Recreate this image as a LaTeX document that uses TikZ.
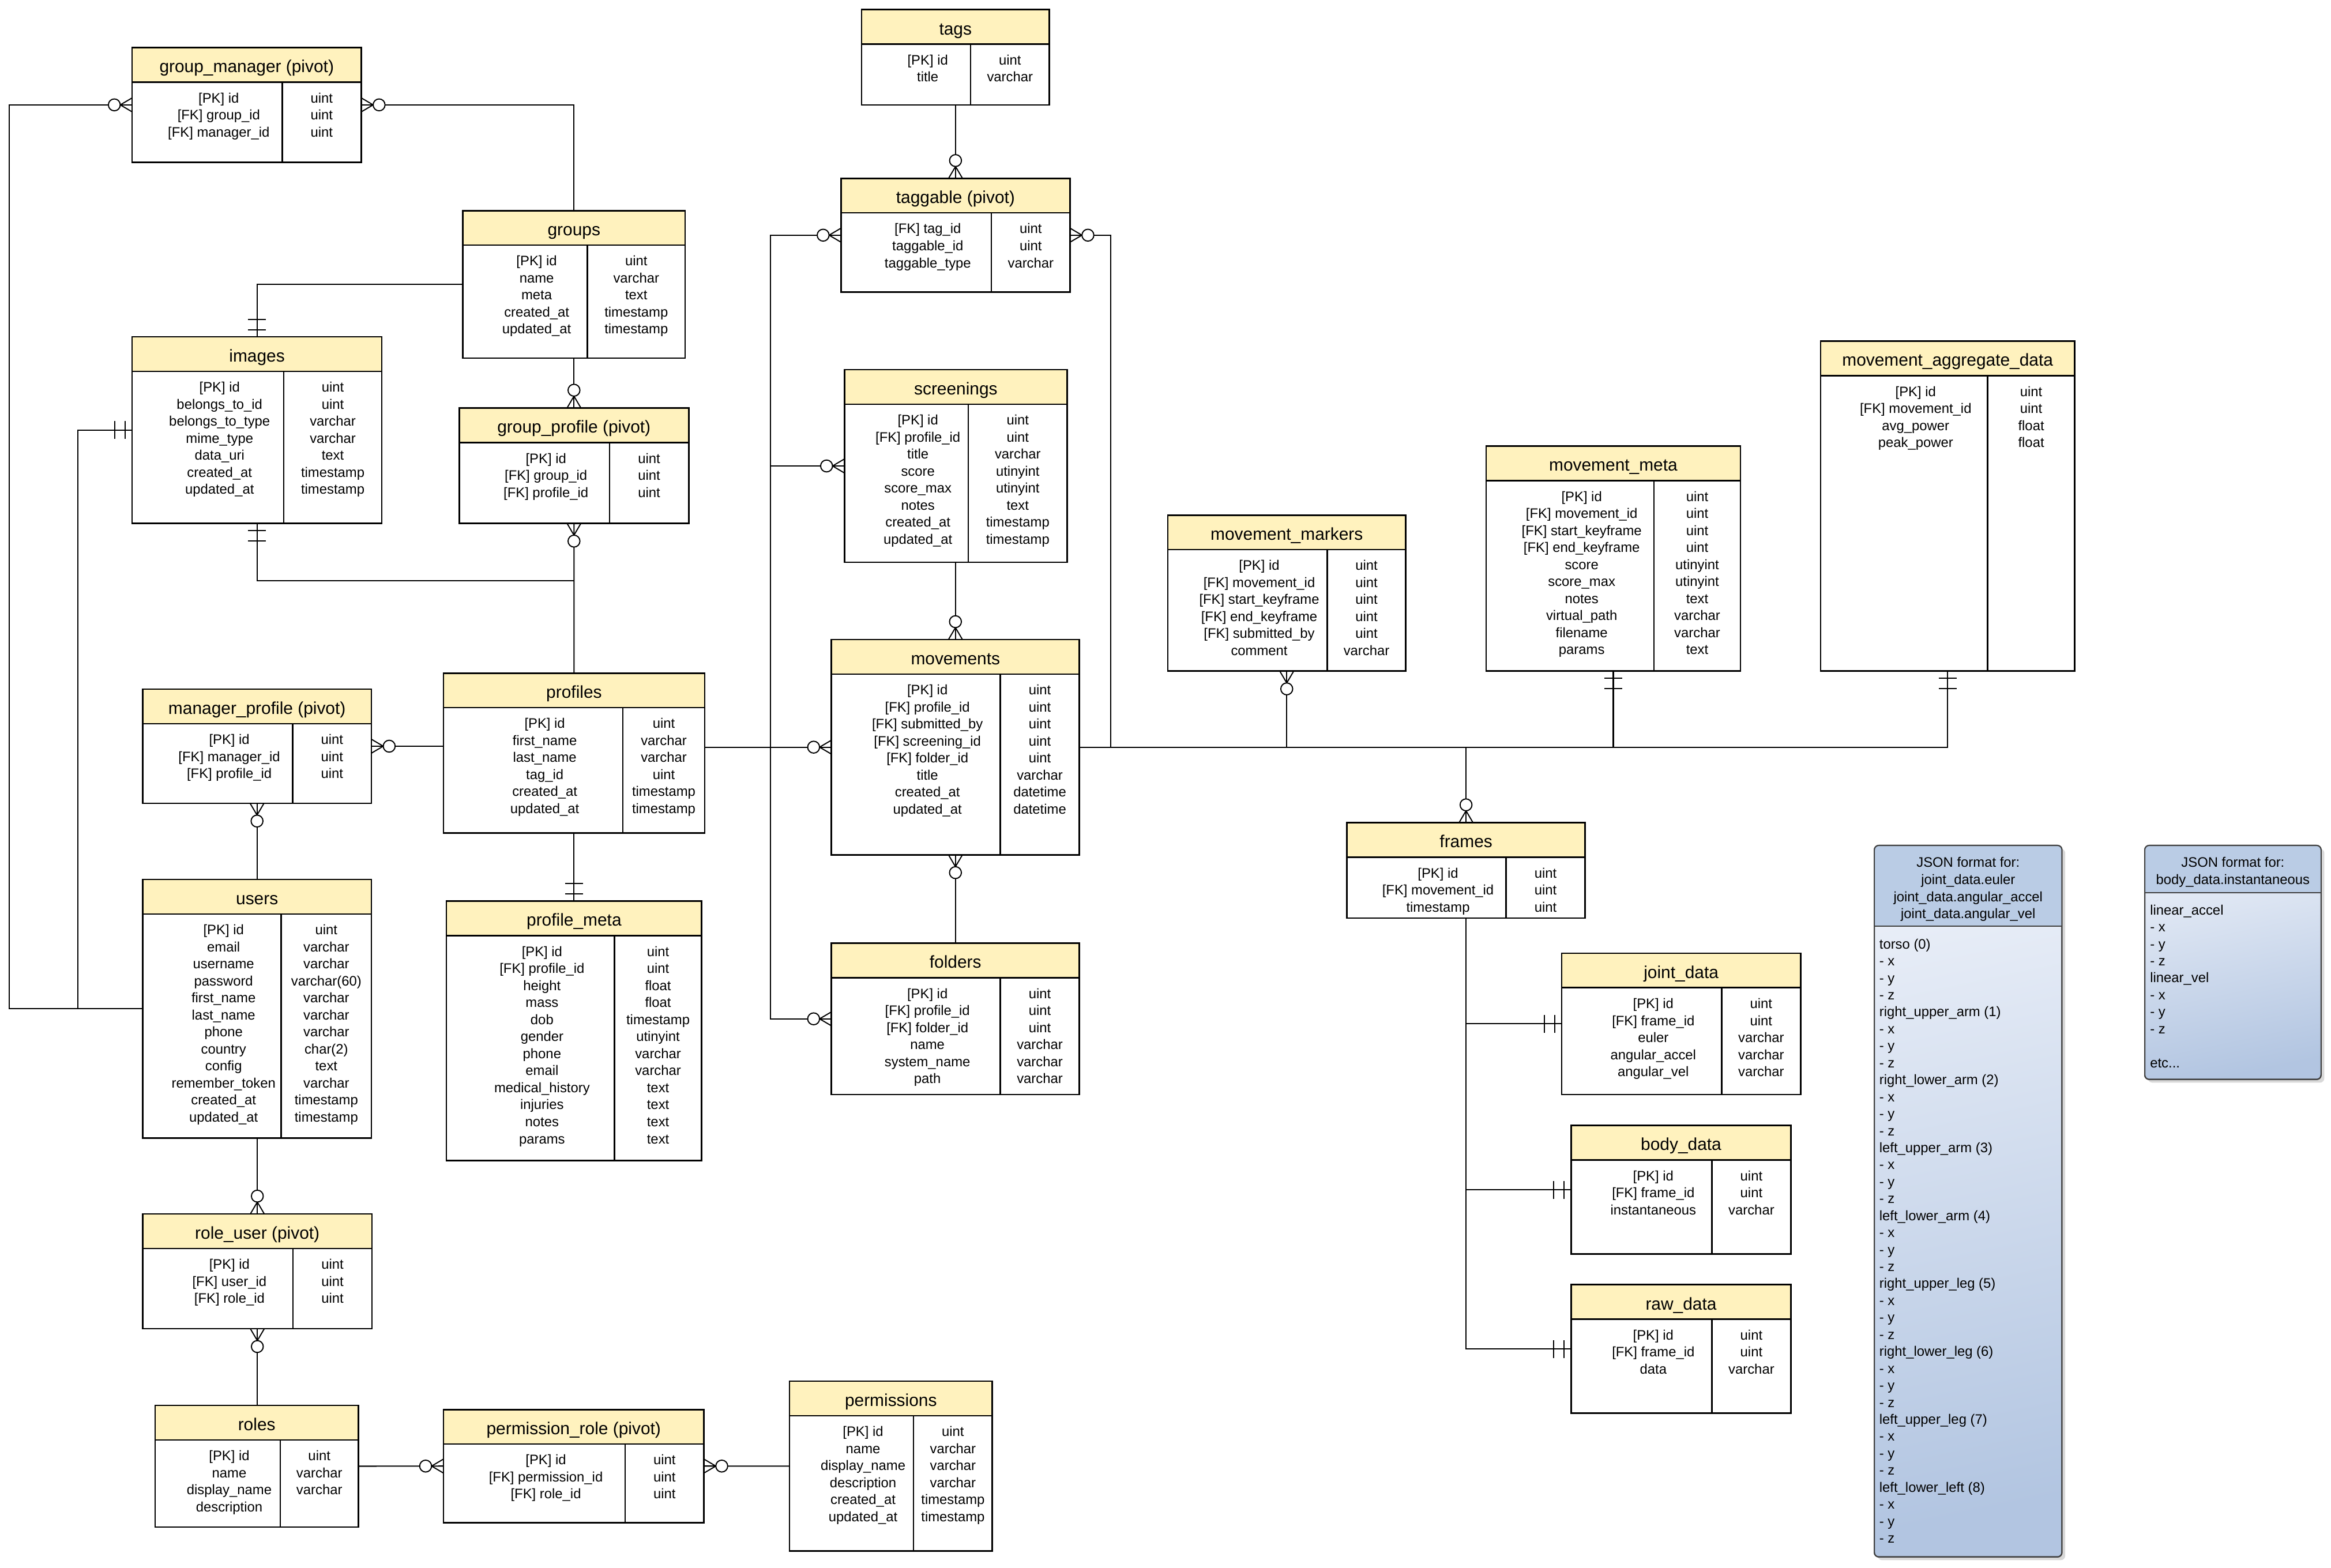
\documentclass[tikz,border=0pt]{standalone}
\usepackage{fontspec}
\setmainfont{Liberation Sans}
\usetikzlibrary{fit,shadows,calc}

\definecolor{hdryellow}{RGB}{255,242,190}
\definecolor{notetop}{RGB}{234,239,248}
\definecolor{notebot}{RGB}{178,197,225}
\definecolor{notehdr}{RGB}{186,204,229}

\tikzset{
  tbox/.style={draw=black, line width=1pt, inner sep=0pt, outer sep=0pt},
  tline/.style={draw=black, line width=1pt},
  ttitle/.style={anchor=base, inner sep=0pt, font=\fontsize{11.6}{13}\selectfont},
  trow/.style={anchor=base, inner sep=0pt, font=\fontsize{9.25}{11.45}\selectfont},
  conn/.style={draw=black, line width=0.8pt},
  sym/.style={draw=black, line width=0.75pt},
  notebox/.style={draw=black!75, line width=0.8pt, rounded corners=3pt,
    inner sep=0pt, outer sep=0pt, top color=notetop, bottom color=notebot,
    shading angle=12,
    drop shadow={shadow xshift=2.2pt, shadow yshift=-2.2pt, opacity=0.3}},
}

% table: name, left, top, right, bottom, divider x, title, field names, field types
\newcommand\ertable[9]{%
  \coordinate (#1-nw) at (#2,#3);
  \coordinate (#1-se) at (#4,#5);
  \fill[hdryellow] (#2,#3) rectangle (#4,#3+23.2);
  \draw[tline] (#2,#3+23.2) -- (#4,#3+23.2);
  \draw[tline] (#6,#3+23.2) -- (#6,#5);
  \node[tbox, fit=(#1-nw)(#1-se)] (#1) {};
  \node[ttitle] (#1-title) at ({(#2+#4)/2},#3+16.8) {#7};
  \foreach \fname [count=\k] in {#8}
    {\node[trow] (#1-f\k) at ({(#2+#6)/2+7.8},{#3+37.1+(\k-1)*11.45}) {\fname};}
  \foreach \ftype [count=\k] in {#9}
    {\node[trow] (#1-t\k) at ({(#6+#4)/2},{#3+37.1+(\k-1)*11.45}) {\ftype};}
}

% crow's foot ends: anchor point on the box side, direction the line leaves in
\newcommand\zeromany[2]{%
  \begin{scope}[shift={(#1)}, rotate=#2]
    \draw[sym] (0,4.7) -- (8,0) -- (0,-4.7);
    \draw[sym, fill=white] (12,0) circle[radius=4];
  \end{scope}}
\newcommand\onlyone[2]{%
  \begin{scope}[shift={(#1)}, rotate=#2]
    \draw[sym] (4.8,-6) -- (4.8,6) (11.8,-6) -- (11.8,6);
  \end{scope}}

\begin{document}
\begin{tikzpicture}[x=1pt, y=-1pt]
\useasboundingbox (0,0) rectangle (1568,1054.4);
\fill[white] (0,0) rectangle (1568,1054.4);

% ---------- tables ----------
\ertable{gm}{88.9}{32.0}{243.0}{109.1}{189.8}{group\_manager (pivot)}
  {[PK] id, [FK] group\_id, [FK] manager\_id}{uint, uint, uint}
\ertable{groups}{311.3}{141.7}{460.9}{240.9}{395.1}{groups}
  {[PK] id, name, meta, created\_at, updated\_at}{uint, varchar, text, timestamp, timestamp}
\ertable{img}{88.9}{226.6}{256.8}{352.0}{190.9}{images}
  {[PK] id, belongs\_to\_id, belongs\_to\_type, mime\_type, data\_uri, created\_at, updated\_at}
  {uint, uint, varchar, varchar, text, timestamp, timestamp}
\ertable{gp}{308.9}{274.5}{463.3}{352.0}{410.0}{group\_profile (pivot)}
  {[PK] id, [FK] group\_id, [FK] profile\_id}{uint, uint, uint}
\ertable{mp}{96.0}{463.6}{249.8}{540.3}{196.9}{manager\_profile (pivot)}
  {[PK] id, [FK] manager\_id, [FK] profile\_id}{uint, uint, uint}
\ertable{profiles}{298.3}{452.8}{474.0}{560.3}{419.0}{profiles}
  {[PK] id, first\_name, last\_name, tag\_id, created\_at, updated\_at}
  {uint, varchar, varchar, uint, timestamp, timestamp}
\ertable{users}{96.0}{591.6}{249.8}{765.6}{189.2}{users}
  {[PK] id, email, username, password, first\_name, last\_name, phone, country, config, remember\_token, created\_at, updated\_at}
  {uint, varchar, varchar, varchar(60), varchar, varchar, varchar, char(2), text, varchar, timestamp, timestamp}
\ertable{pm}{300.3}{606.2}{472.0}{780.8}{413.3}{profile\_meta}
  {[PK] id, [FK] profile\_id, height, mass, dob, gender, phone, email, medical\_history, injuries, notes, params}
  {uint, uint, float, float, timestamp, utinyint, varchar, varchar, text, text, text, text}
\ertable{ru}{96.0}{816.6}{250.2}{893.8}{197.1}{role\_user (pivot)}
  {[PK] id, [FK] user\_id, [FK] role\_id}{uint, uint, uint}
\ertable{roles}{104.3}{945.4}{241.1}{1027.2}{188.5}{roles}
  {[PK] id, name, display\_name, description}{uint, varchar, varchar}
\ertable{pr}{298.3}{948.2}{473.5}{1024.2}{420.5}{permission\_role (pivot)}
  {[PK] id, [FK] permission\_id, [FK] role\_id}{uint, uint, uint}
\ertable{perm}{531.0}{929.1}{667.5}{1043.4}{614.5}{permissions}
  {[PK] id, name, display\_name, description, created\_at, updated\_at}
  {uint, varchar, varchar, varchar, timestamp, timestamp}
\ertable{tags}{579.6}{6.5}{705.8}{70.6}{652.9}{tags}
  {[PK] id, title}{uint, varchar}
\ertable{tg}{565.7}{120.0}{719.8}{196.4}{666.9}{taggable (pivot)}
  {[FK] tag\_id, taggable\_id, taggable\_type}{uint, uint, varchar}
\ertable{scr}{568.0}{248.7}{717.9}{378.2}{651.3}{screenings}
  {[PK] id, [FK] profile\_id, title, score, score\_max, notes, created\_at, updated\_at}
  {uint, uint, varchar, utinyint, utinyint, text, timestamp, timestamp}
\ertable{mov}{559.3}{430.2}{726.1}{575.0}{672.8}{movements}
  {[PK] id, [FK] profile\_id, [FK] submitted\_by, [FK] screening\_id, [FK] folder\_id, title, created\_at, updated\_at}
  {uint, uint, uint, uint, uint, varchar, datetime, datetime}
\ertable{fold}{559.3}{634.5}{726.1}{736.2}{672.8}{folders}
  {[PK] id, [FK] profile\_id, [FK] folder\_id, name, system\_name, path}
  {uint, uint, uint, varchar, varchar, varchar}
\ertable{mk}{785.6}{346.5}{945.5}{451.4}{892.9}{movement\_markers}
  {[PK] id, [FK] movement\_id, [FK] start\_keyframe, [FK] end\_keyframe, [FK] submitted\_by, comment}
  {uint, uint, uint, uint, uint, varchar}
\ertable{meta}{999.7}{300.1}{1170.7}{451.4}{1112.6}{movement\_meta}
  {[PK] id, [FK] movement\_id, [FK] start\_keyframe, [FK] end\_keyframe, score, score\_max, notes, virtual\_path, filename, params}
  {uint, uint, uint, uint, utinyint, utinyint, text, varchar, varchar, text}
\ertable{agg}{1224.6}{229.5}{1395.6}{451.4}{1337.0}{movement\_aggregate\_data}
  {[PK] id, [FK] movement\_id, avg\_power, peak\_power}{uint, uint, float, float}
\ertable{frames}{906.0}{553.4}{1066.3}{617.6}{1013.0}{frames}
  {[PK] id, [FK] movement\_id, timestamp}{uint, uint, uint}
\ertable{jd}{1050.5}{641.2}{1211.2}{736.2}{1158.1}{joint\_data}
  {[PK] id, [FK] frame\_id, euler, angular\_accel, angular\_vel}{uint, uint, varchar, varchar, varchar}
\ertable{bd}{1057.0}{757.1}{1204.6}{843.6}{1151.6}{body\_data}
  {[PK] id, [FK] frame\_id, instantaneous}{uint, uint, varchar}
\ertable{raw}{1057.0}{864.2}{1204.6}{950.6}{1151.6}{raw\_data}
  {[PK] id, [FK] frame\_id, data}{uint, uint, varchar}

% ---------- JSON notes ----------
\coordinate (n1-nw) at (1260.8,568.7);
\coordinate (n1-se) at (1387.0,1047.3);
\coordinate (n1-h) at (1387.0,623.1);
\node[notebox, fit=(n1-nw)(n1-se)] (n1) {};
\begin{scope}
  \clip[rounded corners=3pt] (n1-nw) rectangle (n1-se);
  \fill[notehdr] (n1-nw) rectangle (n1-h);
\end{scope}
\draw[draw=black!75, line width=0.8pt] (n1.west |- n1-h) -- (n1-h);
\draw[draw=black!75, line width=0.8pt, rounded corners=3pt] (n1-nw) rectangle (n1-se);
\foreach \ln [count=\k] in {JSON format for:, joint\_data.euler, joint\_data.angular\_accel, joint\_data.angular\_vel}
  {\node[trow] (n1-h\k) at (1323.9,{583.4+(\k-1)*11.5}) {\ln};}
\foreach \ln [count=\k] in {torso (0), - x, - y, - z,
    right\_upper\_arm (1), - x, - y, - z,
    right\_lower\_arm (2), - x, - y, - z,
    left\_upper\_arm (3), - x, - y, - z,
    left\_lower\_arm (4), - x, - y, - z,
    right\_upper\_leg (5), - x, - y, - z,
    right\_lower\_leg (6), - x, - y, - z,
    left\_upper\_leg (7), - x, - y, - z,
    left\_lower\_left (8), - x, - y, - z}
  {\node[trow, anchor=base west] (n1-b\k) at (1264.0,{638.2+(\k-1)*11.42}) {\ln};}

\coordinate (n2-nw) at (1442.7,568.7);
\coordinate (n2-se) at (1561.3,726.1);
\coordinate (n2-h) at (1561.3,600.6);
\node[notebox, fit=(n2-nw)(n2-se)] (n2) {};
\begin{scope}
  \clip[rounded corners=3pt] (n2-nw) rectangle (n2-se);
  \fill[notehdr] (n2-nw) rectangle (n2-h);
\end{scope}
\draw[draw=black!75, line width=0.8pt] (n2.west |- n2-h) -- (n2-h);
\draw[draw=black!75, line width=0.8pt, rounded corners=3pt] (n2-nw) rectangle (n2-se);
\foreach \ln [count=\k] in {JSON format for:, body\_data.instantaneous}
  {\node[trow] (n2-h\k) at (1502.0,{583.4+(\k-1)*11.5}) {\ln};}
\foreach \ln [count=\k] in {linear\_accel, - x, - y, - z, linear\_vel, - x, - y, - z}
  {\node[trow, anchor=base west] (n2-b\k) at (1446.1,{615.3+(\k-1)*11.42}) {\ln};}
\node[trow, anchor=base west] (n2-etc) at (1446.1,{615.3+9*11.42}) {etc...};

% ---------- connector routing points ----------
\coordinate (xL) at (6.3,0);
\coordinate (xI) at (52.4,0);
\coordinate (yJ) at (0,390.5);
\coordinate (xT) at (518.4,0);
\coordinate (xR) at (747.3,0);

% ---------- connectors ----------
\draw[conn] (gm.west) -| (xL |- users.west) -- (users.west);
\draw[conn] (img.west) -| (xI |- users.west);
\draw[conn] (gm.east) -| (groups.north);
\draw[conn] (groups.west) -| (img.north);
\draw[conn] (groups.south) -- (gp.north);
\draw[conn] (gp.south) -- (profiles.north);
\draw[conn] (img.south) |- (gp.south |- yJ);
\draw[conn] (mp.east) -- (mp.east -| profiles.west);
\draw[conn] (mp.south) -- (mp.south |- users.north);
\draw[conn] (profiles.south) -- (profiles.south |- pm.north);
\draw[conn] (users.south) -- (users.south |- ru.north);
\draw[conn] (ru.south) -- (ru.south |- roles.north);
\draw[conn] (roles.east) -- (pr.west);
\draw[conn] (pr.east) -- (perm.west);
\draw[conn] (tags.south) -- (tags.south |- tg.north);
\draw[conn] (tg.west) -| (xT |- fold.west) -- (fold.west);
\draw[conn] (scr.west) -- (scr.west -| xT);
\draw[conn] (profiles.east |- mov.west) -- (mov.west);
\draw[conn] (tg.east) -| (xR |- mov.east);
\draw[conn] (scr.south) -- (scr.south |- mov.north);
\draw[conn] (mov.south) -- (mov.south |- fold.north);
\draw[conn] (mov.east) -| (agg.south);
\draw[conn] (mk.south) -- (mk.south |- mov.east);
\draw[conn] (meta.south) -- (meta.south |- mov.east);
\draw[conn] (frames.north) -- (frames.north |- mov.east);
\draw[conn] (frames.south) |- (raw.west);
\draw[conn] (frames.south |- jd.west) -- (jd.west);
\draw[conn] (frames.south |- bd.west) -- (bd.west);

% ---------- cardinality marks ----------
\zeromany{gm.west}{180}
\zeromany{gm.east}{0}
\onlyone{img.north}{90}
\zeromany{gp.north}{90}
\zeromany{gp.south}{-90}
\onlyone{img.south}{-90}
\onlyone{img.west}{180}
\zeromany{mp.east}{0}
\zeromany{mp.south}{-90}
\onlyone{pm.north}{90}
\zeromany{ru.north}{90}
\zeromany{ru.south}{-90}
\zeromany{pr.west}{180}
\zeromany{pr.east}{0}
\zeromany{tg.north}{90}
\zeromany{tg.west}{180}
\zeromany{tg.east}{0}
\zeromany{scr.west}{180}
\zeromany{mov.west}{180}
\zeromany{fold.west}{180}
\zeromany{mov.north}{90}
\zeromany{mov.south}{-90}
\zeromany{mk.south}{-90}
\onlyone{meta.south}{-90}
\onlyone{agg.south}{-90}
\zeromany{frames.north}{90}
\onlyone{jd.west}{180}
\onlyone{bd.west}{180}
\onlyone{raw.west}{180}
\end{tikzpicture}
\end{document}
